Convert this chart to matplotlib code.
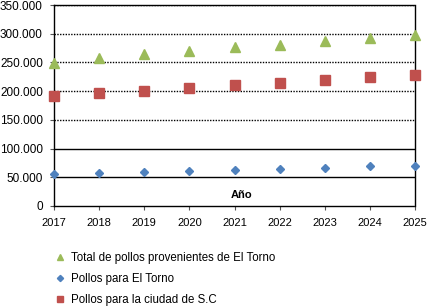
import matplotlib.pyplot as plt
from matplotlib.ticker import FuncFormatter

years = [2017, 2018, 2019, 2020, 2021, 2022, 2023, 2024, 2025]
total = [249000, 257000, 264000, 270000, 276000, 281000, 287000, 292000, 298000]
el_torno = [56000, 58000, 60000, 61000, 63000, 65000, 67000, 69000, 70000]
ciudad_sc = [191000, 196000, 201000, 205000, 210000, 215000, 220000, 224000, 228000]

plt.rcParams['font.family'] = ['Liberation Sans', 'DejaVu Sans']

fig = plt.figure(figsize=(4.36, 3.06), dpi=100)
ax = fig.add_axes([54 / 436, 1 - 206 / 306, 361 / 436, 201 / 306])

ax.plot(years, total, '^', color='#9BBB59', ms=6.5, clip_on=False, zorder=4,
        label='Total de pollos provenientes de El Torno')
ax.plot(years, el_torno, 'D', color='#4F81BD', ms=4.5, clip_on=False, zorder=4,
        label='Pollos para El Torno')
ax.plot(years, ciudad_sc, 's', color='#C0504D', ms=6.5, clip_on=False, zorder=4,
        label='Pollos para la ciudad de S.C')

ax.set_xlim(2017, 2025)
ax.set_ylim(0, 350000)
ax.set_xticks(years)
ax.set_yticks(range(0, 350001, 50000))
ax.yaxis.set_major_formatter(FuncFormatter(lambda v, p: f'{int(v):,}'.replace(',', '.')))
ax.tick_params(labelsize=8, length=3, color='#555555')
ax.tick_params(axis='y', labelsize=8.5, pad=5)
ax.tick_params(axis='x', pad=6)

# rejilla punteada, con las de 50.000 y 100.000 más marcadas
for v in range(50000, 350001, 50000):
    ls = '-' if v in (50000, 100000) else (0, (1, 1))
    ax.axhline(v, color='black', lw=1.0, ls=ls, zorder=1)
for side in ['left', 'right', 'top', 'bottom']:
    ax.spines[side].set_linestyle((0, (1, 1)))
    ax.spines[side].set_linewidth(1.0)

ax.text(0.52, 0.055, 'Año', transform=ax.transAxes, fontsize=8,
        fontweight='bold', ha='center', va='center')

fig.legend(loc='upper left', bbox_to_anchor=(50 / 436, 1 - 247 / 306),
           frameon=False, fontsize=8.3, handlelength=1, handletextpad=0.4,
           labelspacing=0.8, borderaxespad=0, markerscale=0.7)

fig.savefig('out.png', dpi=100)
